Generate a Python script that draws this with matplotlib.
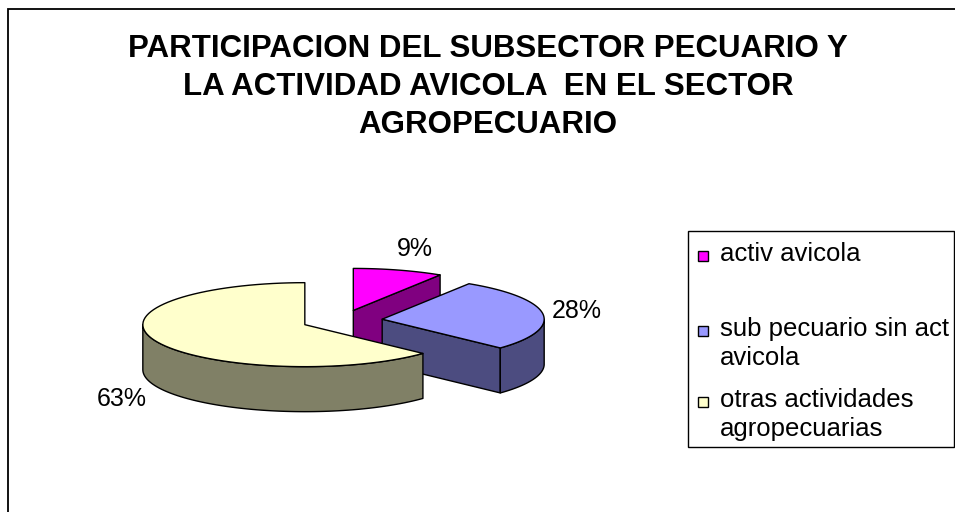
import numpy as np
import matplotlib
matplotlib.use("Agg")
import matplotlib.pyplot as plt
from matplotlib.patches import Polygon, Rectangle

# === data ===
categories = ["activ avicola", "sub pecuario sin act\navicola", "otras actividades\nagropecuarias"]
shares = [9, 28, 63]
top_colors = ["#FF00FF", "#9999FF", "#FFFFCC"]
side_colors = ["#800080", "#4C4C80", "#808066"]
title_lines = ["PARTICIPACION DEL SUBSECTOR PECUARIO Y",
               "LA ACTIVIDAD AVICOLA  EN EL SECTOR",
               "AGROPECUARIO"]

plt.rcParams["font.family"] = ["Liberation Sans", "DejaVu Sans"]

fig = plt.figure(figsize=(9.55, 5.12), dpi=100)
ax = fig.add_axes([0, 0, 1, 1])
ax.set_xlim(0, 955)
ax.set_ylim(512, 0)
ax.axis("off")

# chart frame (only left and top visible)
ax.plot([7.5, 7.5, 960], [520, 9, 9], color="black", lw=1.3, solid_joinstyle="miter")

# title
for k, line in enumerate(title_lines):
    ax.text(488, 57 + 38 * k, line, ha="center", va="baseline",
            fontsize=22.5, fontweight="bold")

# === 3D pie geometry (pixel space) ===
cx, cy = 342, 320.5
a, b, h = 162, 42, 45
explode = 0.25
label_offsets = [(16, 14), (34, -4), (-34, -65)]

total = float(sum(shares))
cum = np.concatenate([[0], np.cumsum(shares)]) / total


def rim(x0, y0, t, dy=0.0):
    return (x0 + a * np.cos(t), y0 - b * np.sin(t) + dy)


def arc(x0, y0, t1, t2, dy=0.0, n=80):
    ts = np.linspace(t1, t2, n)
    return [rim(x0, y0, t, dy) for t in ts]


for i, val in enumerate(shares):
    t_hi = np.deg2rad(90 - 360 * cum[i])
    t_lo = np.deg2rad(90 - 360 * cum[i + 1])
    mid = 0.5 * (t_hi + t_lo)
    x0 = cx + a * explode * np.cos(mid)
    y0 = cy - b * explode * np.sin(mid)
    apex = (x0, y0)
    apex_b = (x0, y0 + h)
    style = dict(ec="black", lw=1.0, joinstyle="round")

    # radial faces facing the viewer
    if np.cos(t_lo) > 1e-6:
        p, pb = rim(x0, y0, t_lo), rim(x0, y0, t_lo, h)
        ax.add_patch(Polygon([apex, p, pb, apex_b], closed=True, fc=side_colors[i], **style))
    if np.cos(t_hi) < -1e-6:
        p, pb = rim(x0, y0, t_hi), rim(x0, y0, t_hi, h)
        ax.add_patch(Polygon([apex, p, pb, apex_b], closed=True, fc=side_colors[i], **style))

    # outer curved side (front half of ellipse: math angle in (-180, 0))
    for k in range(-2, 2):
        s1 = max(t_lo, np.deg2rad(-180 + 360 * k))
        s2 = min(t_hi, np.deg2rad(0 + 360 * k))
        if s2 > s1:
            top = arc(x0, y0, s1, s2)
            bot = arc(x0, y0, s1, s2, h)[::-1]
            ax.add_patch(Polygon(top + bot, closed=True, fc=side_colors[i], **style))

    # top face
    ax.add_patch(Polygon([apex] + arc(x0, y0, t_lo, t_hi), closed=True,
                         fc=top_colors[i], **style))

    # percentage label
    pct = "{:.0f}%".format(100 * val / total)
    ax.annotate(pct, xy=rim(x0, y0, mid), xytext=label_offsets[i],
                textcoords="offset pixels", ha="center", va="baseline", fontsize=18)

# === legend ===
ax.add_patch(Rectangle((688, 231), 266, 216, fc="white", ec="black", lw=1.0))
entry_baselines = [261, 336, 407]
for i, lab in enumerate(categories):
    yb = entry_baselines[i]
    ax.add_patch(Rectangle((698, yb - 10), 10, 10, fc=top_colors[i], ec="black", lw=1.0))
    for j, part in enumerate(lab.split("\n")):
        ax.text(720, yb + 29 * j, part, ha="left", va="baseline", fontsize=18.5)

fig.savefig("out.png", dpi=100)
